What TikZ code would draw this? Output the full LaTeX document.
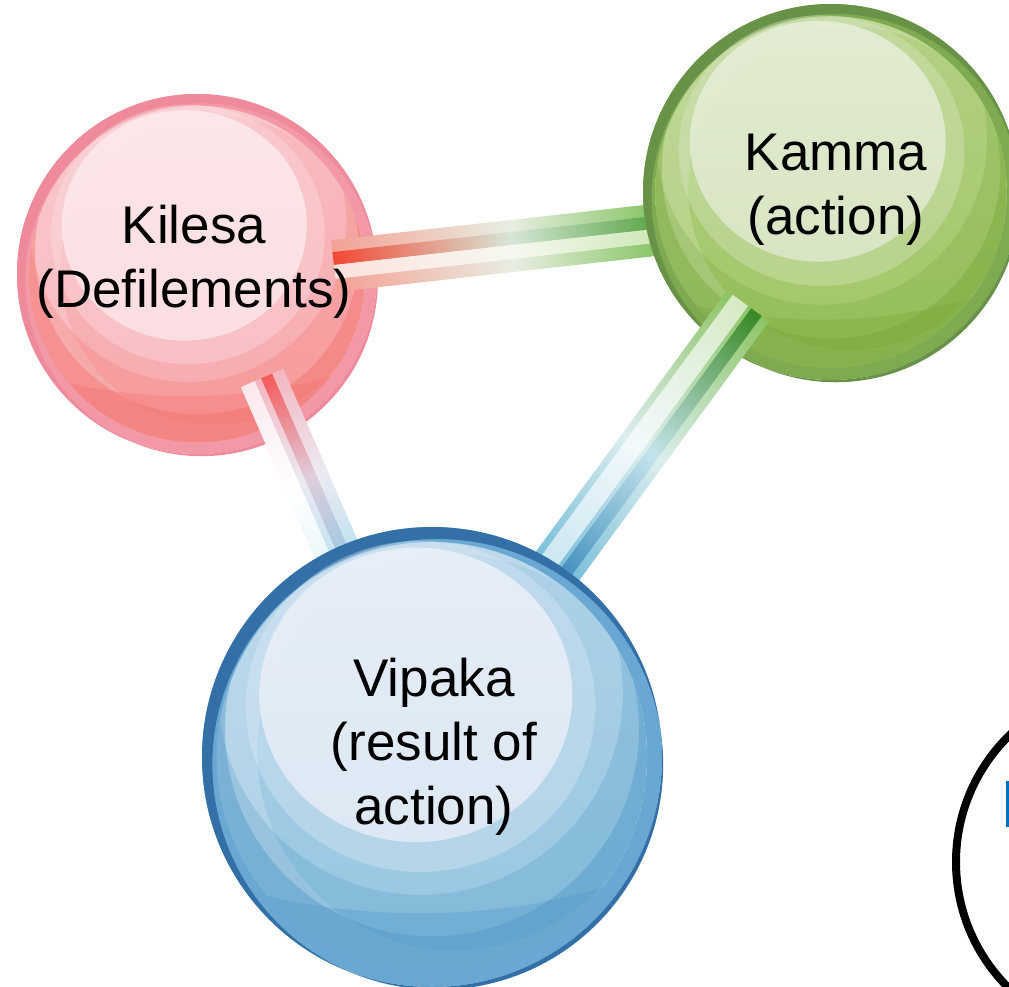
\documentclass[tikz,border=0pt]{standalone}
\usepackage{fontspec}
\setmainfont{Liberation Sans}
\usetikzlibrary{calc}

% sphere palettes: rim, rim shadow, pale top, body, lower bands
\definecolor{kRim}{RGB}{243,152,166}
\definecolor{kEdge}{RGB}{238,138,154}
\definecolor{kPale}{RGB}{252,228,232}
\definecolor{kMid}{RGB}{247,170,174}
\definecolor{kBand}{RGB}{244,110,104}

\definecolor{gRim}{RGB}{128,170,80}
\definecolor{gEdge}{RGB}{104,146,72}
\definecolor{gPale}{RGB}{222,233,205}
\definecolor{gMid}{RGB}{160,198,100}
\definecolor{gBand}{RGB}{118,165,55}

\definecolor{bRim}{RGB}{105,168,210}
\definecolor{bEdge}{RGB}{52,112,168}
\definecolor{bPale}{RGB}{228,236,246}
\definecolor{bMid}{RGB}{150,198,225}
\definecolor{bBand}{RGB}{75,150,198}

% link palettes
\definecolor{rgBaseA}{RGB}{245,160,148}
\definecolor{rgBaseM}{RGB}{232,238,226}
\definecolor{rgBaseB}{RGB}{112,186,70}
\definecolor{rgDarkA}{RGB}{242,72,52}
\definecolor{rgDarkM}{RGB}{214,230,214}
\definecolor{rgDarkB}{RGB}{60,150,38}
\definecolor{rgLiteA}{RGB}{252,226,222}
\definecolor{rgLiteM}{RGB}{246,248,240}
\definecolor{rgLiteB}{RGB}{196,228,170}

\definecolor{rbBaseA}{RGB}{244,182,192}
\definecolor{rbBaseM}{RGB}{236,234,242}
\definecolor{rbBaseB}{RGB}{180,224,240}
\definecolor{rbLiteA}{RGB}{250,232,236}
\definecolor{rbLiteB}{RGB}{228,245,250}
\definecolor{rbDarkA}{RGB}{244,90,90}
\definecolor{rbDarkM}{RGB}{224,205,220}
\definecolor{rbDarkB}{RGB}{140,200,228}

\definecolor{gbBaseA}{RGB}{140,196,100}
\definecolor{gbBaseM}{RGB}{220,238,238}
\definecolor{gbBaseB}{RGB}{104,182,214}
\definecolor{gbLiteA}{RGB}{214,234,198}
\definecolor{gbLiteM}{RGB}{242,249,252}
\definecolor{gbLiteB}{RGB}{198,228,240}
\definecolor{gbDarkA}{RGB}{56,136,36}
\definecolor{gbDarkM}{RGB}{196,228,236}
\definecolor{gbDarkB}{RGB}{44,130,182}

\definecolor{fragBlue}{RGB}{0,112,192}

% a glossy ball: name, x, y, radius, rim, rim shadow, pale, body, band
\newcommand\glossball[9]{%
  \node[circle, inner sep=0pt, minimum size={2*#4pt}] (#1) at (#2,#3) {};
  \begin{scope}[shift={(#1.center)}, x=#4pt, y=-#4pt]
    \fill[#5] (0,0) circle (1);
    \fill[#6, even odd rule] (0,0) circle (1) (0.025,0.032) circle (0.98);
    \shade[top color=#8!70!#7, bottom color=#8] (0,0) circle (0.935);
    \begin{scope}
      \clip (0,0) circle (0.935);
      \fill[#7, opacity=0.30, even odd rule] (0,0) circle (0.935) (0.10,-0.02) circle (0.86);
      \fill[#9, opacity=0.40, even odd rule] (0,0) circle (0.935) (0,-0.12) circle (0.90);
      \fill[#9, opacity=0.30] (-1,0.52) .. controls (-0.4,0.74) and (0.4,0.74) .. (1,0.47) -- (1,1) -- (-1,1) -- cycle;
      \fill[#9, opacity=0.25, even odd rule] (0,0) circle (0.935) (-0.05,-0.28) circle (0.88);
    \end{scope}
    \shade[top color=#7, bottom color=#7, opacity=0.35] (-0.05,-0.22) ellipse (0.76 and 0.72);
    \shade[top color=#7!70!white, bottom color=#7, opacity=0.85] (-0.07,-0.27) ellipse (0.68 and 0.64);
  \end{scope}
}

% length and direction of a link between two named points
\makeatletter
\newcommand\barsetup[2]{%
  \pgfmathanglebetweenpoints{\pgfpointanchor{#1}{center}}{\pgfpointanchor{#2}{center}}%
  \xdef\barang{\pgfmathresult}%
  \pgfpointdiff{\pgfpointanchor{#1}{center}}{\pgfpointanchor{#2}{center}}%
  \edef\bardx{\the\pgf@x}\edef\bardy{\the\pgf@y}%
  \pgfmathsetmacro\barlen{veclen(\bardx,\bardy)}%
  \xdef\barlen{\barlen}%
}
\makeatother
% one lengthwise stripe of a link: from offset, to offset, start colour, middle, end colour
\newcommand\stripe[5]{\shade[left color=#3, right color=#5, middle color=#4] (0,#1) rectangle (\barlen,#2);}

\tikzset{
  label/.style={align=center, inner sep=0pt, text=black,
    font=\fontsize{53}{64}\selectfont},
}

\begin{document}
\begin{tikzpicture}[x=1pt, y=-1pt]
  \useasboundingbox (0,0) rectangle (1009,986);
  \clip (0,0) rectangle (1009,986);

  % link end points
  \coordinate (b1s) at (334,266);
  \coordinate (b1e) at (690,226);
  \coordinate (b2s) at (262,378);
  \coordinate (b2e) at (350,580);
  \coordinate (b3s) at (748,306);
  \coordinate (b3e) at (540,590);

  % Kilesa ball
  \glossball{kilesa}{197}{274}{180}{kRim}{kEdge}{kPale}{kMid}{kBand}

  % Kilesa -- Kamma link
  \barsetup{b1s}{b1e}
  \begin{scope}[transform canvas={shift={(b1s)}, rotate=\barang}, x=1pt, y=1pt]
    \stripe{-26}{26}{rgBaseA}{rgBaseM}{rgBaseB}
    \stripe{14}{1}{rgDarkA}{rgDarkM}{rgDarkB}
    \stripe{1}{-13}{rgLiteA}{rgLiteM}{rgLiteB}
  \end{scope}

  % Kamma ball
  \glossball{kamma}{831}{192}{188}{gRim}{gEdge}{gPale}{gMid}{gBand}

  % Kilesa -- Vipaka link
  \barsetup{b2s}{b2e}
  \begin{scope}[transform canvas={shift={(b2s)}, rotate=\barang}, x=1pt, y=1pt]
    \stripe{-23}{23}{rbBaseA}{rbBaseM}{rbBaseB}
    \stripe{-23}{-8}{rbLiteA}{white}{rbLiteB}
    \stripe{-1}{11}{rbDarkA}{rbDarkM}{rbDarkB}
  \end{scope}

  % Kamma -- Vipaka link
  \barsetup{b3s}{b3e}
  \begin{scope}[transform canvas={shift={(b3s)}, rotate=\barang}, x=1pt, y=1pt]
    \stripe{-26}{26}{gbBaseA}{gbBaseM}{gbBaseB}
    \stripe{-19}{0}{gbLiteA}{gbLiteM}{gbLiteB}
    \stripe{4}{17}{gbDarkA}{gbDarkM}{gbDarkB}
  \end{scope}

  % Vipaka ball
  \glossball{vipaka}{432}{757}{230}{bRim}{bEdge}{bPale}{bMid}{bBand}

  % labels
  \node[label] (kilesaT) at (194,262) {Kilesa\\(Defilements)};
  \node[label] (kammaT) at (836,190) {Kamma\\(action)};
  \node[label] (vipakaT) at (434,747) {Vipaka\\(result of\\action)};

  % ring at the lower right edge
  \node[circle, draw=black, line width=8pt, inner sep=0pt, minimum size=354pt] (ring) at (1133,862) {};
  \fill[fragBlue] (1006,781) rectangle (1010,827);
\end{tikzpicture}
\end{document}
